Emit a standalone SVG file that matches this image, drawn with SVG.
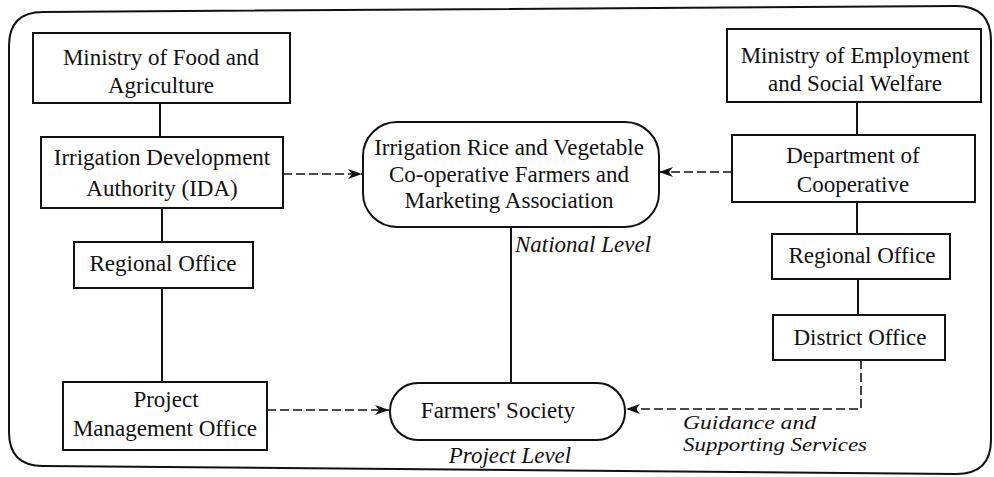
<svg xmlns="http://www.w3.org/2000/svg" width="994" height="477" viewBox="0 0 994 477">
<style>
  .box { fill: #fff; stroke: #111; stroke-width: 2; }
  .t { font-family: "Liberation Serif", "Times New Roman", serif; font-size: 23px; fill: #111; text-anchor: middle; }
  .it { font-family: "Liberation Serif", "Times New Roman", serif; font-size: 23px; font-style: italic; fill: #111; }
  .sm { font-size: 19px; }
  .solid { stroke: #111; stroke-width: 2; fill: none; }
  .dash { stroke: #111; stroke-width: 1.6; fill: none; stroke-dasharray: 9 4; }
</style>
<defs>
  <marker id="arr" viewBox="0 0 14 10" refX="14" refY="5" markerWidth="14" markerHeight="10" markerUnits="userSpaceOnUse" orient="auto">
    <path d="M0,0 L14,5 L0,10 L4,5 Z" fill="#111"/>
  </marker>
</defs>
<rect width="994" height="477" fill="#fff"/>
<path id="frame" d="M9,46 Q9,12 43,12 L956,6 Q991,6 991,41 L991,440 Q991,474 956,474 L43,466 Q9,466 9,432 Z" fill="none" stroke="#111" stroke-width="2"/>

<g id="connectors">
  <line class="solid" x1="160" y1="103" x2="160" y2="137"/>
  <line class="solid" x1="162" y1="208" x2="162" y2="242"/>
  <line class="solid" x1="162" y1="288" x2="162" y2="382"/>
  <line class="solid" x1="857" y1="102" x2="857" y2="135"/>
  <line class="solid" x1="857" y1="202" x2="857" y2="234"/>
  <line class="solid" x1="858" y1="279" x2="858" y2="315"/>
  <line class="solid" x1="511" y1="227" x2="511" y2="383"/>
  <line class="dash" x1="283" y1="174" x2="362" y2="174" marker-end="url(#arr)"/>
  <line class="dash" x1="732" y1="172" x2="659" y2="172" marker-end="url(#arr)"/>
  <line class="dash" x1="267" y1="410" x2="389" y2="410" marker-end="url(#arr)"/>
  <polyline class="dash" points="861,360 861,409 626,409" marker-end="url(#arr)"/>
</g>

<g id="ministry-food">
  <rect class="box" x="33" y="33" width="257" height="70"/>
  <text class="t" x="161" y="65">Ministry of Food and</text>
  <text class="t" x="161" y="93">Agriculture</text>
</g>
<g id="ida">
  <rect class="box" x="41" y="137" width="242" height="71"/>
  <text class="t" x="162" y="165">Irrigation Development</text>
  <text class="t" x="162" y="196">Authority (IDA)</text>
</g>
<g id="regional-left">
  <rect class="box" x="74" y="242" width="179" height="46"/>
  <text class="t" x="163" y="271">Regional Office</text>
</g>
<g id="pmo">
  <rect class="box" x="63" y="382" width="204" height="68"/>
  <text class="t" x="166" y="407">Project</text>
  <text class="t" x="165" y="436">Management Office</text>
</g>
<g id="association">
  <rect class="box" x="363" y="122" width="296" height="105" rx="34" ry="34"/>
  <text class="t" x="509" y="155">Irrigation Rice and Vegetable</text>
  <text class="t" x="509" y="182">Co-operative Farmers and</text>
  <text class="t" x="509" y="208">Marketing Association</text>
</g>
<g id="farmers-society">
  <rect class="box" x="390" y="383" width="235" height="57" rx="28" ry="28"/>
  <text class="t" x="498" y="418">Farmers' Society</text>
</g>
<g id="ministry-employment">
  <rect class="box" x="727" y="29" width="254" height="73"/>
  <text class="t" x="855" y="63">Ministry of Employment</text>
  <text class="t" x="855" y="91">and Social Welfare</text>
</g>
<g id="dept-coop">
  <rect class="box" x="732" y="135" width="243" height="67"/>
  <text class="t" x="853" y="163">Department of</text>
  <text class="t" x="853" y="192">Cooperative</text>
</g>
<g id="regional-right">
  <rect class="box" x="772" y="234" width="178" height="45"/>
  <text class="t" x="862" y="263">Regional Office</text>
</g>
<g id="district">
  <rect class="box" x="773" y="315" width="172" height="45"/>
  <text class="t" x="860" y="345">District Office</text>
</g>

<g id="labels">
  <text class="it" x="515" y="252">National Level</text>
  <text class="it" x="510" y="463" text-anchor="middle">Project Level</text>
  <text class="it sm" x="683" y="429" textLength="133" lengthAdjust="spacingAndGlyphs">Guidance and</text>
  <text class="it sm" x="683" y="451" textLength="184" lengthAdjust="spacingAndGlyphs">Supporting Services</text>
</g>
</svg>
